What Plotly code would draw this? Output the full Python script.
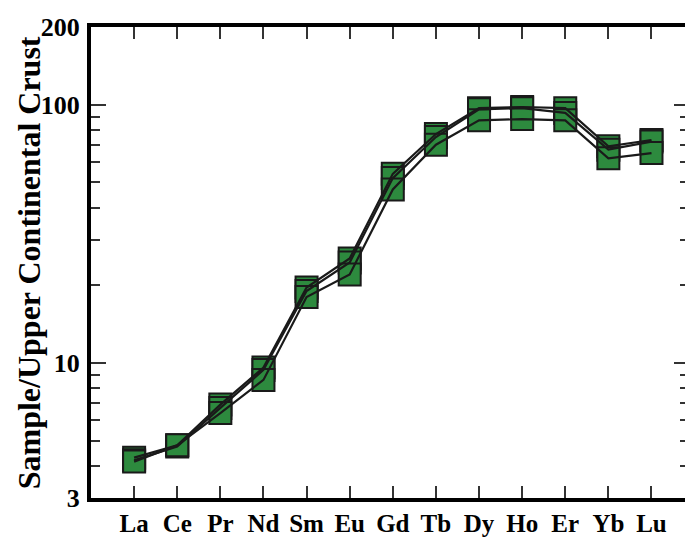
import plotly.graph_objects as go

elements = ["La", "Ce", "Pr", "Nd", "Sm", "Eu", "Gd", "Tb", "Dy", "Ho", "Er", "Yb", "Lu"]
sample_a = [4.3, 4.8, 6.9, 9.6, 19.6, 25.4, 54, 77, 97, 98, 97, 69, 73]
sample_b = [4.2, 4.75, 6.7, 9.4, 19.0, 24.5, 52, 75, 96, 97, 93, 67, 72]
sample_c = [4.15, 4.8, 6.4, 8.6, 18.0, 22.0, 47, 70, 87, 88, 87, 62, 65]
series = [sample_a, sample_b, sample_c]
y_tickvals = [3, 10, 100, 200]
y_minor = [4, 5, 6, 7, 8, 9, 20, 30, 40, 50, 60, 70, 80, 90]

xs = list(range(len(elements)))
FONT = "Liberation Serif"

fig = go.Figure()
for s in series:
    fig.add_trace(go.Scatter(
        x=xs, y=s, mode="markers",
        marker=dict(symbol="square", size=22, color="#2d8a3e",
                    line=dict(color="#1a1a1a", width=2)),
        showlegend=False, hoverinfo="skip"))
for s in series:
    fig.add_trace(go.Scatter(
        x=xs, y=s, mode="lines",
        line=dict(color="#1a1a1a", width=2.2),
        showlegend=False, hoverinfo="skip"))

# page body has an 8px default margin, so the figure is 8px smaller
fig.update_layout(
    width=685, height=529,
    margin=dict(l=83, r=0, t=19, b=38),
    paper_bgcolor="white", plot_bgcolor="white",
    font=dict(family=FONT, color="black"),
    xaxis=dict(
        range=[-1, 12.87], tickmode="array", tickvals=xs, ticktext=elements,
        showgrid=False, zeroline=False,
        showline=True, linecolor="black", linewidth=4,
        ticks="inside", ticklen=12, tickwidth=1.5, tickcolor="#333",
        mirror="allticks",
        tickfont=dict(family=FONT, size=25, color="black", weight="bold"),
    ),
    yaxis=dict(
        type="log", range=[0.47712, 2.30103],
        tickmode="array", tickvals=y_tickvals, ticktext=[str(v) for v in y_tickvals],
        showgrid=False, zeroline=False,
        showline=True, linecolor="black", linewidth=4,
        ticks="inside", ticklen=15, tickwidth=1.5, tickcolor="#333",
        mirror="allticks",
        minor=dict(tickmode="array", tickvals=y_minor, ticks="inside",
                   ticklen=9, tickwidth=1.5, tickcolor="#333", showgrid=False),
        tickfont=dict(family=FONT, size=26, color="black", weight="bold"),
        ticklabelstandoff=2,
    ),
    annotations=[dict(
        text="Sample/Upper Continental Crust", xref="paper", yref="paper",
        x=-0.1375, y=0.5, xanchor="left", yanchor="middle", textangle=-90,
        showarrow=False, font=dict(family=FONT, size=32, color="black", weight="bold"))],
)

fig.write_html("out.html")
